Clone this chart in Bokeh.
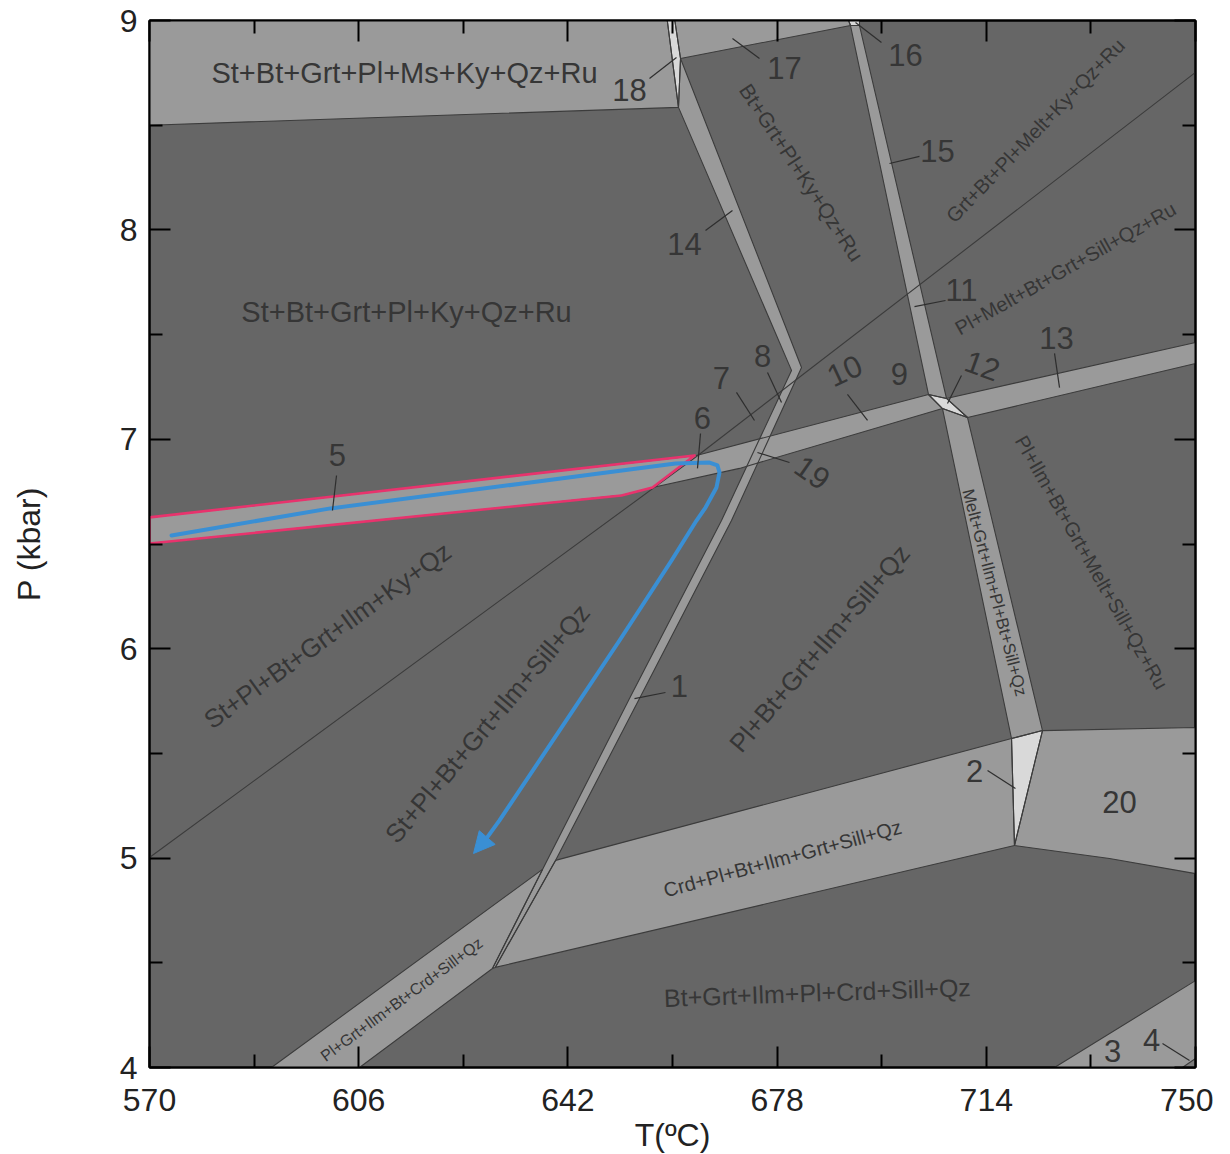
from bokeh.plotting import figure
from bokeh.models import Range1d, FixedTicker, LinearAxis, ColumnDataSource, Arrow, NormalHead
from bokeh.core.properties import value
from bokeh.embed import file_html
from bokeh.resources import INLINE

FONT = "Liberation Sans"
DARK = "#666666"
MID = "#9a9a9a"
LIGHT = "#d9d9d9"
DARKER = "#7c7c7c"
EDGE = "#3c3c3c"
TXT = "#363636"
PINK = "#e8336d"
BLUE = "#3a8fd4"

# ---------------- axes ----------------
T_TICKS = [570, 606, 642, 678, 714, 750]
T_MINOR = [588, 624, 660, 696, 732]
P_TICKS = [4, 5, 6, 7, 8, 9]
P_MINOR = [4.5, 5.5, 6.5, 7.5, 8.5]

# ---------------- fields (T in C, P in kbar) ----------------
ms_T = [570, 659.1, 661.03, 570]
ms_P = [9, 9, 8.585, 8.5]
f18_T = [659.1, 660.4, 661.38, 661.03]
f18_P = [9, 9, 8.8185, 8.585]
f17_T = [660.4, 690.3, 690.63, 661.38]
f17_P = [9, 9, 8.976, 8.8185]
f16_T = [690.3, 692.18, 692.18, 690.63]
f16_P = [9, 9, 8.976, 8.976]
b15_T = [690.63, 692.18, 707.15, 704.05]
b15_P = [8.976, 8.976, 7.195, 7.214]
b14_T = [661.03, 680.48, 668.43, 652.60, 637.63, 629.02, 629.5, 639.87, 654.32, 670.15, 682.20, 661.38]
b14_P = [8.585, 7.329, 6.612, 5.762, 4.946, 4.473, 4.478, 4.989, 5.762, 6.612, 7.343, 8.8185]
main_T = [570, 664.13, 704.05, 706.46, 671.53, 656.56, 651.22, 570]
main_P = [6.627, 6.923, 7.214, 7.147, 6.861, 6.770, 6.732, 6.502]
f12_T = [704.05, 707.15, 710.77, 706.46]
f12_P = [7.214, 7.195, 7.104, 7.147]
b13_T = [707.15, 750, 750, 710.77]
b13_P = [7.195, 7.462, 7.362, 7.104]
melt_T = [706.46, 710.77, 723.67, 718.34]
melt_P = [7.147, 7.104, 5.609, 5.571]
f2_T = [718.34, 723.67, 718.85]
f2_P = [5.571, 5.609, 5.060]
f20_T = [723.67, 750, 750, 735.2, 718.85]
f20_P = [5.609, 5.624, 4.926, 4.998, 5.060]
crd_T = [639.87, 718.34, 718.85, 629.5]
crd_P = [4.989, 5.571, 5.060, 4.478]
ll_T = [590.99, 606.14, 629.02, 637.63]
ll_P = [4, 4, 4.473, 4.946]
f3_T = [725.74, 750, 750]
f3_P = [4, 4.415, 4]
f4_T = [747.76, 750, 750]
f4_P = [4, 4.043, 4]

# thin Ky/Sill reaction line
kysill_T = [570, 664.13, 750]
kysill_P = [5.003, 6.918, 8.752]

# pink outline (field 5)
pink_T = [570, 663.8, 656.56, 651.22, 570, 570]
pink_P = [6.627, 6.923, 6.770, 6.732, 6.502, 6.627]

# P-T path
path_T = [573.79, 601.15, 634.19, 660.52, 666.37, 667.74, 668.09, 667.57, 665.68, 664.13,
          659.83, 650.88, 640.55, 630.23, 627.99]
path_P = [6.541, 6.670, 6.789, 6.884, 6.889, 6.875, 6.842, 6.770, 6.674, 6.612,
          6.421, 6.039, 5.609, 5.180, 5.094]
tip_T = 625.76
tip_P = 5.022

# field labels
lab_text = ["St+Bt+Grt+Pl+Ms+Ky+Qz+Ru", "St+Bt+Grt+Pl+Ky+Qz+Ru", "Bt+Grt+Pl+Ky+Qz+Ru",
            "Grt+Bt+Pl+Melt+Ky+Qz+Ru", "Pl+Melt+Bt+Grt+Sill+Qz+Ru", "Pl+Ilm+Bt+Grt+Melt+Sill+Qz+Ru",
            "Melt+Grt+Ilm+Pl+Bt+Sill+Qz", "Pl+Bt+Grt+Ilm+Sill+Qz", "St+Pl+Bt+Grt+Ilm+Sill+Qz",
            "St+Pl+Bt+Grt+Ilm+Ky+Qz", "Crd+Pl+Bt+Ilm+Grt+Sill+Qz", "Bt+Grt+Ilm+Pl+Crd+Sill+Qz",
            "Pl+Grt+Ilm+Bt+Crd+Sill+Qz"]
lab_T = [613.88, 614.23, 682.20, 722.47, 727.63, 732.10, 715.41, 685.30, 628.16, 600.63, 678.93, 684.95, 613.37]
lab_P = [8.747, 7.606, 8.274, 8.475, 7.816, 6.412, 6.268, 6.001, 5.643, 6.063, 4.998, 4.358, 4.325]
lab_ang = [0, 0, -56.7, 46, 29.3, -60.4, -75.4, 49.6, 50, 35.9, 15.2, 2, 36.4]
lab_size = ["29px", "29px", "21px", "20px", "20px", "20px", "17px", "26px", "26px", "26px", "20px", "25px", "16px"]

# numbered small fields
num_text = ["1", "2", "3", "4", "5", "6", "7", "8", "9", "10", "11", "12", "13", "14", "15", "16", "17", "18", "19", "20"]
num_T = [661.20, 711.97, 735.72, 742.43, 602.35, 665.16, 668.43, 675.49, 699.06, 689.60,
         709.73, 713.35, 726.08, 662.06, 705.60, 700.10, 679.27, 652.60, 684.09, 736.92]
num_P = [5.820, 5.418, 4.081, 4.129, 6.923, 7.104, 7.295, 7.400, 7.314, 7.329,
         7.711, 7.352, 7.486, 7.935, 8.379, 8.833, 8.771, 8.666, 6.842, 5.266]
num_ang = [0, 0, 0, 0, 0, 0, 0, 0, 0, 25, 0, -20, 0, 0, 0, 0, 0, 0, -35, 0]

# leader lines
lead_T0 = [602.18, 664.82, 671.01, 676.35, 690.11, 709.73, 725.74, 706.98, 702.50, 665.68, 695.96, 674.97, 656.04, 680.13, 658.79, 714.21, 744.32]
lead_P0 = [6.827, 7.028, 7.224, 7.319, 7.214, 7.305, 7.410, 7.663, 8.351, 7.997, 8.895, 8.819, 8.723, 6.889, 5.791, 5.418, 4.115]
lead_T1 = [601.49, 664.30, 674.11, 678.76, 693.56, 707.32, 726.60, 701.64, 697.34, 670.32, 691.49, 670.32, 660.69, 674.62, 653.46, 719.02, 748.97]
lead_P1 = [6.660, 6.861, 7.090, 7.176, 7.090, 7.171, 7.247, 7.634, 8.317, 8.093, 8.990, 8.914, 8.823, 6.937, 5.762, 5.332, 4.033]

# ---------------- figure ----------------
p = figure(frame_width=1046, frame_height=1047,
           x_range=Range1d(570, 750), y_range=Range1d(4, 9),
           output_backend="svg", toolbar_location=None,
           min_border_left=149, min_border_right=18, min_border_top=20, min_border_bottom=80)
p.background_fill_color = DARK
p.border_fill_color = "white"
p.outline_line_color = "black"
p.outline_line_width = 2
p.xgrid.visible = False
p.ygrid.visible = False

xt = FixedTicker(ticks=T_TICKS, minor_ticks=T_MINOR)
yt = FixedTicker(ticks=P_TICKS, minor_ticks=P_MINOR)


def style_axis(ax, labels=True):
    ax.major_tick_in = 21
    ax.major_tick_out = 0
    ax.minor_tick_in = 13
    ax.minor_tick_out = 0
    ax.major_tick_line_width = 2
    ax.minor_tick_line_width = 2
    ax.major_tick_line_color = "black"
    ax.minor_tick_line_color = "black"
    ax.axis_line_width = 2
    ax.axis_line_color = "black"
    if labels:
        ax.major_label_text_font = FONT
        ax.major_label_text_font_size = "32px"
        ax.major_label_text_color = "#222222"
        ax.axis_label_text_font = FONT
        ax.axis_label_text_font_size = "32px"
        ax.axis_label_text_font_style = "normal"
        ax.axis_label_text_color = "#222222"
    else:
        ax.major_label_text_font_size = "0px"
        ax.major_label_standoff = 0


p.xaxis.ticker = xt
p.yaxis.ticker = yt
style_axis(p.xaxis[0])
style_axis(p.yaxis[0])
p.xaxis.axis_label = "T(ºC)"
p.yaxis.axis_label = "P (kbar)"
p.xaxis.major_label_standoff = 21
p.xaxis.axis_label_standoff = 3
p.yaxis.major_label_standoff = 12
p.yaxis.axis_label_standoff = 70

top_ax = LinearAxis(ticker=xt)
style_axis(top_ax, labels=False)
p.add_layout(top_ax, "above")
right_ax = LinearAxis(ticker=yt)
style_axis(right_ax, labels=False)
p.add_layout(right_ax, "right")

# ---------------- fields ----------------
polys = [
    (ms_T, ms_P, MID), (f18_T, f18_P, LIGHT), (f17_T, f17_P, MID), (f16_T, f16_P, LIGHT),
    (b15_T, b15_P, MID), (main_T, main_P, MID), (b14_T, b14_P, MID), (f12_T, f12_P, LIGHT),
    (b13_T, b13_P, MID), (melt_T, melt_P, MID), (f2_T, f2_P, LIGHT), (f20_T, f20_P, MID),
    (crd_T, crd_P, MID), (ll_T, ll_P, MID), (f3_T, f3_P, MID), (f4_T, f4_P, DARKER),
]
psrc = ColumnDataSource(dict(xs=[a for a, b, c in polys], ys=[b for a, b, c in polys],
                             color=[c for a, b, c in polys]))
p.patches("xs", "ys", source=psrc, fill_color="color", line_color=None)
p.patches("xs", "ys", source=psrc, fill_alpha=0, line_color=EDGE, line_width=1.1)

p.line(kysill_T, kysill_P, line_color=EDGE, line_width=1.1)

# ---------------- pink outline & path ----------------
p.line(pink_T, pink_P, line_color=PINK, line_width=2.6, line_join="round")
p.line(path_T, path_P, line_color=BLUE, line_width=4, line_join="round", line_cap="round")
p.add_layout(Arrow(end=NormalHead(size=21, fill_color=BLUE, line_color=BLUE, line_width=1),
                   x_start=path_T[-1], y_start=path_P[-1], x_end=tip_T, y_end=tip_P,
                   line_color=BLUE, line_width=4))

# ---------------- leaders ----------------
p.segment(lead_T0, lead_P0, lead_T1, lead_P1, line_color="#2e2e2e", line_width=1.2)

# ---------------- labels (one renderer per font size) ----------------
for sz in sorted(set(lab_size)):
    idx = [i for i, s in enumerate(lab_size) if s == sz]
    src = ColumnDataSource(dict(x=[lab_T[i] for i in idx], y=[lab_P[i] for i in idx],
                                text=[lab_text[i] for i in idx], angle=[lab_ang[i] for i in idx]))
    p.text(x="x", y="y", text="text", angle="angle", angle_units="deg", source=src,
           text_font=value(FONT), text_font_size=sz, text_color=TXT,
           text_align="center", text_baseline="middle")

nsrc = ColumnDataSource(dict(x=num_T, y=num_P, text=num_text, angle=num_ang))
p.text(x="x", y="y", text="text", angle="angle", angle_units="deg", source=nsrc,
       text_font=value(FONT), text_font_size="31px", text_color=TXT,
       text_align="center", text_baseline="middle")

open("out.html", "w").write(file_html(p, INLINE))
